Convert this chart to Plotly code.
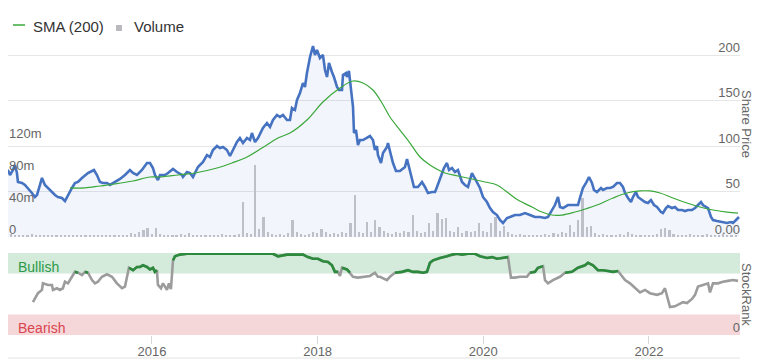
import plotly.graph_objects as go

# ---------------- data ----------------
price_years = [2014.213, 2014.261, 2014.286, 2014.322, 2014.346, 2014.370, 2014.382, 2014.431, 2014.467, 2014.503,
               2014.551, 2014.587, 2014.612, 2014.648, 2014.672, 2014.708, 2014.744, 2014.793, 2014.829, 2014.865,
               2014.913, 2014.950, 2014.986, 2015.034, 2015.070, 2015.107, 2015.155, 2015.191, 2015.227, 2015.276,
               2015.300, 2015.336, 2015.372, 2015.408, 2015.457, 2015.493, 2015.553, 2015.614, 2015.674, 2015.734,
               2015.771, 2015.819, 2015.879, 2015.940, 2015.976,
               2016.012, 2016.036, 2016.072, 2016.097, 2016.157, 2016.193, 2016.254, 2016.302, 2016.362, 2016.374,
               2016.423, 2016.459, 2016.495, 2016.555, 2016.616, 2016.664, 2016.700, 2016.736, 2016.785, 2016.821,
               2016.857, 2016.905, 2016.942, 2016.978, 2017.026, 2017.062, 2017.099, 2017.147, 2017.183, 2017.207,
               2017.244, 2017.280, 2017.340, 2017.388, 2017.425, 2017.461, 2017.509, 2017.545, 2017.582, 2017.630,
               2017.666, 2017.690, 2017.726,
               2017.751, 2017.787, 2017.823, 2017.847, 2017.871, 2017.908, 2017.944, 2017.968, 2017.992, 2018.028,
               2018.064, 2018.089, 2018.113, 2018.137, 2018.173, 2018.197, 2018.234, 2018.258, 2018.294, 2018.306,
               2018.342, 2018.354, 2018.378, 2018.403, 2018.427, 2018.439, 2018.463, 2018.487, 2018.511, 2018.547,
               2018.596, 2018.632, 2018.668, 2018.692, 2018.716, 2018.728, 2018.765, 2018.789, 2018.837, 2018.849,
               2018.885, 2018.910, 2018.946, 2018.994, 2019.054, 2019.079, 2019.103, 2019.139, 2019.163, 2019.211,
               2019.260, 2019.296, 2019.332, 2019.380, 2019.417, 2019.441, 2019.477,
               2019.501, 2019.525, 2019.561, 2019.586, 2019.622, 2019.658, 2019.694, 2019.718, 2019.743, 2019.779,
               2019.815, 2019.863, 2019.887, 2019.924, 2019.960, 2019.996, 2020.044, 2020.081, 2020.117, 2020.165,
               2020.201, 2020.238, 2020.286, 2020.322, 2020.382, 2020.443, 2020.503, 2020.564, 2020.624, 2020.684,
               2020.745, 2020.781, 2020.829, 2020.865, 2020.902, 2020.926, 2020.962, 2021.022, 2021.083, 2021.143,
               2021.167, 2021.203,
               2021.240, 2021.276, 2021.312, 2021.336, 2021.372, 2021.421, 2021.445, 2021.493, 2021.529, 2021.566,
               2021.614, 2021.650, 2021.686, 2021.711, 2021.747, 2021.783, 2021.807, 2021.843, 2021.867, 2021.916,
               2021.952, 2021.988, 2022.024, 2022.061, 2022.097, 2022.145, 2022.169, 2022.206, 2022.230, 2022.278,
               2022.314, 2022.350, 2022.399, 2022.435, 2022.471, 2022.519, 2022.556, 2022.592, 2022.628, 2022.652,
               2022.688, 2022.713, 2022.749, 2022.773, 2022.821, 2022.882, 2022.942, 2022.990, 2023.014, 2023.051,
               2023.087]
price_vals = [66.4, 73.8, 68.3, 73.8, 79.3, 70.5, 60.6, 59.5, 57.3, 54.0,
              48.5, 44.1, 46.3, 57.3, 65.0, 57.3, 54.0, 48.5, 46.3, 44.1,
              43.0, 39.6, 46.3, 54.0, 59.5, 60.6, 65.0, 68.3, 70.5, 72.7,
              73.8, 68.3, 60.6, 59.5, 59.5, 57.3, 60.6, 63.9, 68.3, 73.8,
              70.5, 68.3, 73.8, 81.5, 81.5,
              76.0, 68.3, 62.8, 68.3, 68.3, 70.5, 74.9, 71.6, 68.3, 66.1,
              71.6, 70.5, 66.1, 77.1, 82.6, 90.3, 88.1, 95.8, 100.2, 98.0,
              99.1, 95.8, 89.2, 95.8, 104.6, 109.0, 103.5, 109.0, 106.8, 114.5,
              104.6, 109.0, 120.0, 125.5, 121.1, 128.9, 134.4, 132.2, 134.4, 128.9,
              128.9, 142.1, 139.9,
              150.9, 158.6, 169.6, 165.2, 180.6, 198.2, 210.3, 200.4, 205.9, 197.1,
              200.4, 183.9, 176.2, 191.6, 181.7, 176.2, 165.2, 161.9, 161.9, 178.4,
              180.6, 176.2, 182.8, 164.1, 143.2, 114.5, 117.8, 101.3, 106.8, 106.8,
              109.0, 111.2, 106.8, 95.8, 100.2, 90.3, 81.5, 92.5, 99.1, 103.5,
              90.3, 81.5, 72.7, 72.7, 77.1, 85.9, 77.1, 62.8, 55.1, 55.1,
              60.6, 55.1, 48.5, 49.6, 49.6, 55.1, 65.0,
              70.5, 76.0, 81.5, 73.8, 76.0, 71.6, 73.8, 68.3, 60.6, 57.3,
              55.1, 70.5, 66.1, 60.6, 54.0, 44.1, 38.5, 31.9, 27.5, 24.2,
              18.7, 15.4, 20.9, 22.0, 24.2, 24.2, 26.4, 24.2, 22.0, 22.0,
              20.9, 22.0, 29.7, 35.2, 44.1, 33.0, 31.9, 35.2, 35.2, 35.2,
              43.0, 54.0,
              59.5, 66.1, 59.5, 51.8, 49.6, 54.0, 51.8, 54.0, 54.0, 55.1,
              59.5, 59.5, 55.1, 48.5, 43.0, 38.5, 44.1, 49.6, 44.1, 40.7,
              38.5, 37.4, 40.7, 35.2, 33.0, 27.5, 26.4, 31.9, 34.1, 31.9,
              33.0, 29.7, 29.7, 28.6, 29.7, 29.7, 31.9, 35.2, 38.5, 35.2,
              33.0, 31.9, 22.0, 18.7, 17.6, 16.5, 15.4, 16.5, 15.4, 18.7,
              22.0]

sma_years = [2015.010, 2015.191, 2015.372, 2015.553, 2015.771, 2015.976, 2016.097, 2016.314, 2016.519, 2016.785,
             2016.966, 2017.123, 2017.328, 2017.521, 2017.666, 2017.871, 2018.064, 2018.270, 2018.427, 2018.547,
             2018.668, 2018.777, 2018.873, 2018.994, 2019.115, 2019.236, 2019.356, 2019.537, 2019.694, 2019.863,
             2020.020, 2020.165, 2020.286, 2020.419, 2020.588, 2020.708, 2020.829, 2020.950, 2021.107, 2021.228,
             2021.372, 2021.566, 2021.735, 2021.892, 2022.012, 2022.133, 2022.290, 2022.459, 2022.616, 2022.773,
             2022.942, 2023.075]
sma_vals = [54.0, 54.0, 56.2, 58.4, 61.7, 66.1, 66.1, 68.3, 70.5, 76.0,
            81.5, 87.0, 98.0, 109.0, 114.5, 128.9, 148.7, 164.1, 171.8, 169.6,
            161.9, 147.6, 132.2, 117.8, 103.5, 88.1, 79.3, 70.5, 67.2, 63.9,
            60.6, 57.3, 49.6, 40.7, 33.0, 27.5, 24.2, 24.2, 27.5, 30.8,
            35.2, 43.0, 48.5, 50.7, 50.7, 48.5, 43.0, 37.4, 33.0, 29.7,
            27.5, 26.4]

vol_years = [2014.25, 2014.30, 2014.35, 2014.40, 2014.45, 2014.50, 2014.55, 2014.60, 2014.65, 2014.70,
             2014.75, 2014.80, 2014.85, 2014.90, 2014.95, 2015.00, 2015.05, 2015.10, 2015.15, 2015.20,
             2015.25, 2015.30, 2015.35, 2015.40, 2015.45, 2015.50, 2015.55, 2015.60, 2015.65, 2015.70,
             2015.75, 2015.80, 2015.85, 2015.90, 2015.95, 2016.00, 2016.05, 2016.10, 2016.15, 2016.20,
             2016.25, 2016.30, 2016.35, 2016.40, 2016.45, 2016.50, 2016.55, 2016.60, 2016.65, 2016.70,
             2016.75, 2016.80, 2016.85, 2016.90, 2016.95, 2017.00, 2017.05, 2017.10, 2017.15, 2017.20,
             2017.25, 2017.30, 2017.35, 2017.40, 2017.45, 2017.50, 2017.55, 2017.60, 2017.65, 2017.70,
             2017.75, 2017.80, 2017.85, 2017.90, 2017.95, 2018.00, 2018.05, 2018.10, 2018.15, 2018.20,
             2018.25, 2018.30, 2018.35, 2018.40, 2018.45, 2018.50, 2018.55, 2018.60, 2018.65, 2018.70,
             2018.75, 2018.80, 2018.85, 2018.90, 2018.95, 2019.00, 2019.05, 2019.10, 2019.15, 2019.20,
             2019.25, 2019.30, 2019.35, 2019.40, 2019.45, 2019.50, 2019.55, 2019.60, 2019.65, 2019.70,
             2019.75, 2019.80, 2019.85, 2019.90, 2019.95, 2020.00, 2020.05, 2020.10, 2020.15, 2020.20,
             2020.25, 2020.30, 2020.35, 2020.40, 2020.45, 2020.50, 2020.55, 2020.60, 2020.65, 2020.70,
             2020.75, 2020.80, 2020.85, 2020.90, 2020.95, 2021.00, 2021.05, 2021.10, 2021.15, 2021.20,
             2021.25, 2021.30, 2021.35, 2021.40, 2021.45, 2021.50, 2021.55, 2021.60, 2021.65, 2021.70,
             2021.75, 2021.80, 2021.85, 2021.90, 2021.95, 2022.00, 2022.05, 2022.10, 2022.15, 2022.20,
             2022.25, 2022.30, 2022.35, 2022.40, 2022.45, 2022.50, 2022.55, 2022.60, 2022.65, 2022.70,
             2022.75, 2022.80, 2022.85, 2022.90, 2022.95, 2023.00, 2023.05]
vol_millions = [3, 4, 3, 2, 3, 2, 4, 3, 2, 3,
                2, 3, 2, 3, 2, 3, 2, 3, 2, 3,
                2, 3, 2, 3, 2, 3, 2, 3, 2, 3,
                5, 4, 6, 9, 11, 4, 11, 4, 3, 2,
                3, 2, 4, 3, 5, 3, 2, 3, 2, 3,
                2, 3, 4, 3, 2, 3, 4, 44, 5, 4,
                90, 10, 25, 6, 4, 3, 4, 3, 5, 21,
                6, 4, 3, 4, 6, 5, 10, 6, 4, 5,
                4, 6, 5, 18, 52, 6, 5, 19, 6, 21,
                12, 7, 5, 4, 6, 5, 8, 6, 27, 8,
                5, 6, 18, 7, 30, 22, 24, 8, 6, 12,
                5, 7, 6, 8, 17, 7, 6, 17, 25, 8,
                14, 6, 4, 3, 4, 3, 2, 3, 2, 3,
                4, 3, 5, 4, 6, 5, 15, 6, 21, 49,
                12, 14, 5, 3, 4, 3, 2, 3, 4, 3,
                6, 4, 3, 2, 3, 2, 3, 4, 10, 11,
                9, 4, 3, 2, 3, 4, 3, 2, 3, 4,
                3, 2, 3, 4, 3, 2, 3]

sr_years = [2014.563, 2014.624, 2014.672, 2014.684, 2014.744, 2014.793, 2014.805, 2014.853, 2014.889, 2014.925,
            2014.950, 2014.986, 2015.034, 2015.070, 2015.107, 2015.155, 2015.191, 2015.227, 2015.276, 2015.312,
            2015.348, 2015.396, 2015.457, 2015.517, 2015.577, 2015.638, 2015.674, 2015.698, 2015.722, 2015.771,
            2015.819, 2015.855, 2015.891, 2015.940, 2015.976, 2016.012, 2016.036, 2016.060, 2016.072, 2016.109,
            2016.133, 2016.157, 2016.181, 2016.205, 2016.229, 2016.254, 2016.278, 2016.338, 2016.423, 2016.580,
            2016.785, 2016.978, 2017.183, 2017.388, 2017.461, 2017.521, 2017.630, 2017.751, 2017.823, 2017.883,
            2017.944, 2018.004, 2018.064, 2018.125, 2018.173, 2018.209, 2018.246, 2018.270, 2018.294, 2018.354,
            2018.390, 2018.427, 2018.487, 2018.547, 2018.632, 2018.692, 2018.728, 2018.753, 2018.837, 2018.873,
            2018.934, 2019.018, 2019.091, 2019.151, 2019.211, 2019.272, 2019.320, 2019.356, 2019.393, 2019.477,
            2019.562, 2019.622, 2019.682, 2019.743, 2019.815, 2019.900, 2019.960, 2020.045, 2020.105, 2020.165,
            2020.226, 2020.298, 2020.334, 2020.383, 2020.443, 2020.527, 2020.564, 2020.624, 2020.660, 2020.721,
            2020.745, 2020.781, 2020.841, 2020.926, 2020.986, 2021.071, 2021.143, 2021.228, 2021.264, 2021.324,
            2021.384, 2021.445, 2021.505, 2021.566, 2021.626, 2021.674, 2021.711, 2021.771, 2021.831, 2021.892,
            2021.952, 2022.012, 2022.097, 2022.157, 2022.193, 2022.218, 2022.254, 2022.314, 2022.375, 2022.411,
            2022.459, 2022.519, 2022.556, 2022.592, 2022.652, 2022.713, 2022.737, 2022.773, 2022.833, 2022.894,
            2022.954, 2023.014, 2023.075]
sr_vals = [40, 51, 55, 63, 61, 61, 55, 57, 55, 57,
           65, 63, 71, 77, 76, 73, 77, 76, 67, 63,
           65, 71, 74, 71, 63, 57, 59, 70, 82, 79,
           83, 83, 85, 83, 80, 82, 77, 79, 61, 57,
           63, 59, 55, 63, 56, 91, 96, 98, 99, 99,
           99, 99, 99, 99, 99, 96, 98, 98, 98, 95,
           93, 93, 90, 89, 85, 77, 77, 72, 82, 80,
           76, 71, 70, 71, 72, 76, 71, 71, 67, 71,
           76, 77, 79, 77, 77, 76, 77, 88, 91, 94,
           96, 98, 99, 98, 99, 99, 96, 94, 95, 93,
           94, 95, 70, 70, 71, 71, 76, 77, 82, 84,
           67, 63, 67, 71, 76, 77, 82, 85, 88, 85,
           79, 79, 78, 77, 78, 71, 67, 63, 57, 52,
           55, 51, 49, 51, 57, 46, 34, 35, 38, 40,
           39, 44, 49, 59, 61, 63, 52, 63, 63, 65,
           66, 67, 66]

year_ticks = [2016, 2018, 2020, 2022]
year_labels = ["2016", "2018", "2020", "2022"]
price_ticks = [0, 50, 100, 150, 200, 250]
price_labels = ["0.00", "50", "100", "150", "200", "250"]
vol_ticks = [0, 40e6, 80e6, 120e6]
vol_labels = ["0", "40m", "80m", "120m"]
bull_level = 75

# ---------------- figure ----------------
# The page body has an 8px default margin, so the figure is sized to fill the
# rest of the 760x360 window; layout positions below are in window pixels.
FONT = "Liberation Sans, Arial, sans-serif"
W, H = 752, 352
OFF = 8


def px_x(sx):
    return (sx - OFF) / W


def px_y(sy):
    return 1 - (sy - OFF) / H


xdom = [0.0, px_x(740)]
xrange_ = [2014.262, 2023.099]
GREEN_SMA = "#3aa83a"
VOL_GRAY = "#c6c6ca"

fig = go.Figure()

fig.add_trace(go.Bar(
    x=vol_years, y=[v * 1e6 for v in vol_millions], width=0.02,
    marker=dict(color=VOL_GRAY, line=dict(width=0)),
    name="Volume", showlegend=False, xaxis="x", yaxis="y", hoverinfo="skip"))

fig.add_trace(go.Scatter(
    x=price_years, y=price_vals, mode="lines",
    line=dict(color="#4673c1", width=2.6), fill="tozeroy",
    fillcolor="rgba(70,115,193,0.07)", showlegend=False,
    xaxis="x", yaxis="y3"))

fig.add_trace(go.Scatter(
    x=sma_years, y=sma_vals, mode="lines", line=dict(color=GREEN_SMA, width=1.2, shape="spline"),
    name="SMA (200)", showlegend=False, xaxis="x", yaxis="y3"))

fig.add_trace(go.Scatter(
    x=sr_years, y=sr_vals, mode="lines", line=dict(color="#9c9c9c", width=2.6),
    showlegend=False, xaxis="x2", yaxis="y2"))
fig.add_trace(go.Scatter(
    x=sr_years, y=[v if v >= bull_level else None for v in sr_vals], mode="lines",
    line=dict(color="#2b8a3b", width=2.6), connectgaps=False,
    showlegend=False, xaxis="x2", yaxis="y2"))

shapes = [
    dict(type="rect", xref="paper", yref="y2", x0=xdom[0], x1=xdom[1], y0=bull_level, y1=100,
         fillcolor="#d4eadb", line=dict(width=0), layer="below"),
    dict(type="rect", xref="paper", yref="y2", x0=xdom[0], x1=xdom[1], y0=0, y1=25,
         fillcolor="#f5d6d9", line=dict(width=0), layer="below"),
    dict(type="line", xref="paper", yref="paper", x0=xdom[0], x1=xdom[1], y0=px_y(358), y1=px_y(358),
         line=dict(color="#e3e3e3", width=1)),
    # legend swatches
    dict(type="line", xref="paper", yref="paper", x0=px_x(13), x1=px_x(25), y0=px_y(25), y1=px_y(25),
         line=dict(color=GREEN_SMA, width=1.5)),
    dict(type="rect", xref="paper", yref="paper", x0=px_x(116), x1=px_x(122), y0=px_y(31), y1=px_y(25),
         fillcolor="#b9b9be", line=dict(width=0)),
]

annotations = [
    dict(text="SMA (200)", xref="paper", yref="paper", x=px_x(31), y=px_y(26), xanchor="left",
         yanchor="middle", showarrow=False, font=dict(family=FONT, size=15, color="#333333")),
    dict(text="Volume", xref="paper", yref="paper", x=px_x(132), y=px_y(26), xanchor="left",
         yanchor="middle", showarrow=False, font=dict(family=FONT, size=15, color="#333333")),
    dict(text="Bullish", xref="paper", yref="y2", x=px_x(16), y=83, xanchor="left", yanchor="middle",
         showarrow=False, font=dict(family=FONT, size=14, color="#2e9a48")),
    dict(text="Bearish", xref="paper", yref="y2", x=px_x(16), y=9, xanchor="left", yanchor="middle",
         showarrow=False, font=dict(family=FONT, size=14, color="#d9454f")),
    dict(text="Share Price", xref="paper", yref="paper", x=px_x(747), y=px_y(124), textangle=90,
         xanchor="center", yanchor="middle", showarrow=False, font=dict(family=FONT, size=13, color="#666666")),
    dict(text="StockRank", xref="paper", yref="paper", x=px_x(747), y=px_y(294), textangle=90,
         xanchor="center", yanchor="middle", showarrow=False, font=dict(family=FONT, size=13, color="#666666")),
]

axis_font = dict(family=FONT, size=13, color="#666666")

fig.update_layout(
    width=W, height=H, margin=dict(l=0, r=0, t=0, b=0, autoexpand=False),
    paper_bgcolor="white", plot_bgcolor="white",
    font=dict(family=FONT, size=13, color="#333333"),
    bargap=0,
    showlegend=False,
    xaxis=dict(domain=xdom, range=xrange_, anchor="y", showticklabels=False, showgrid=False,
               zeroline=False, showline=False, ticks="", automargin=False),
    xaxis2=dict(domain=xdom, range=xrange_, anchor="y2", matches="x", tickvals=year_ticks,
                ticktext=year_labels, ticks="outside", ticklen=8, tickcolor="#d6d6d6",
                ticklabelstandoff=-4,
                showgrid=False, zeroline=False, showline=False, tickfont=axis_font, automargin=False),
    yaxis=dict(domain=[px_y(237), px_y(10)], range=[0, 283.75e6], side="left", anchor="x",
               tickvals=vol_ticks, ticktext=vol_labels, ticklabelposition="inside", ticklabelshift=-8,
               ticklabelstandoff=-2, showgrid=False, zeroline=False, showline=False, ticks="",
               tickfont=axis_font, automargin=False),
    yaxis3=dict(domain=[px_y(237), px_y(10)], range=[0, 250], side="right", anchor="x",
                overlaying="y", tickvals=price_ticks, ticktext=price_labels,
                ticklabelposition="inside", ticklabelshift=-8, ticklabelstandoff=-3,
                showgrid=True, gridcolor="#e6e6e6",
                zeroline=False, showline=False, ticks="", tickfont=axis_font, automargin=False),
    yaxis2=dict(domain=[px_y(335), px_y(253)], range=[0, 100], side="right", anchor="x2",
                tickvals=[0], ticktext=["0"], ticklabelposition="inside", ticklabelshift=-8,
                ticklabelstandoff=-3, showgrid=False, zeroline=False, showline=False, ticks="",
                tickfont=axis_font, automargin=False),
    shapes=shapes,
    annotations=annotations,
)

fig.write_html("out.html")
